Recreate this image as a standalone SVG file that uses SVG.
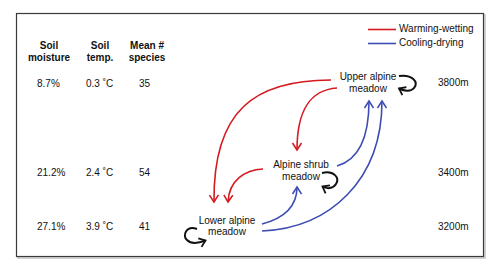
<svg xmlns="http://www.w3.org/2000/svg" width="500" height="276" viewBox="0 0 500 276">
<style>
text{font-family:"Liberation Sans",Arial,sans-serif;font-size:10px;fill:#111}
.h{font-weight:bold}
.m{text-anchor:middle}
.r{fill:none;stroke:#d41920;stroke-width:1.6}
.b{fill:none;stroke:#3e4db3;stroke-width:1.6}
.k{fill:none;stroke:#111;stroke-width:2}
</style>
<defs>
<marker id="ar" viewBox="-8 -6 10 12" refX="0" refY="0" markerWidth="10" markerHeight="12" markerUnits="userSpaceOnUse" orient="auto"><path d="M-7,-4.5 L0,0 L-7,4.5" fill="none" stroke="#d41920" stroke-width="1.5"/></marker>
<marker id="ab" viewBox="-8 -6 10 12" refX="0" refY="0" markerWidth="10" markerHeight="12" markerUnits="userSpaceOnUse" orient="auto"><path d="M-7,-4.5 L0,0 L-7,4.5" fill="none" stroke="#3e4db3" stroke-width="1.5"/></marker>
<marker id="ak" viewBox="-8 -6 10 12" refX="0" refY="0" markerWidth="10" markerHeight="12" markerUnits="userSpaceOnUse" orient="auto"><path d="M-6,-4.5 L0,0 L-6,4.5" fill="none" stroke="#111" stroke-width="1.8"/></marker>
</defs>
<rect x="18" y="15" width="467" height="243" fill="none" stroke="#c4c4c4" stroke-width="1.5"/>
<rect x="16.5" y="13.5" width="467" height="243" fill="#fff" stroke="#3a3a3a" stroke-width="1.2"/>
<g id="legend">
<line x1="368" y1="29.5" x2="396" y2="29.5" class="r"/>
<text x="399" y="32">Warming-wetting</text>
<line x1="368" y1="43.5" x2="396" y2="43.5" class="b"/>
<text x="399" y="46">Cooling-drying</text>
</g>
<g id="table">
<text class="h m" x="49" y="48.5">Soil</text>
<text class="h m" x="49" y="61">moisture</text>
<text class="h m" x="100" y="48.5">Soil</text>
<text class="h m" x="100" y="61">temp.</text>
<text class="h m" x="147" y="48.5">Mean #</text>
<text class="h m" x="147" y="61">species</text>
<text x="37" y="87">8.7%</text>
<text x="86" y="87">0.3 ˚C</text>
<text x="139" y="87">35</text>
<text x="37" y="176">21.2%</text>
<text x="86" y="176">2.4 ˚C</text>
<text x="139" y="176">54</text>
<text x="37" y="230">27.1%</text>
<text x="86" y="230">3.9 ˚C</text>
<text x="139" y="230">41</text>
</g>
<g id="altitudes">
<text x="438" y="86">3800m</text>
<text x="438" y="176">3400m</text>
<text x="438" y="230">3200m</text>
</g>
<g id="upper">
<text class="m" x="368" y="80">Upper alpine</text>
<text class="m" x="368" y="92">meadow</text>
<path class="k" d="M399,76 C412,74 419,82 414,88 C411,92 404,91 399,88.5" marker-end="url(#ak)"/>
</g>
<g id="shrub">
<text class="m" x="301" y="168">Alpine shrub</text>
<text class="m" x="301" y="180">meadow</text>
<path class="k" d="M322,173 C334,170 340,178 336,184 C333,189 327,189 322.5,186.5" marker-end="url(#ak)"/>
</g>
<g id="lower">
<text class="m" x="227" y="224">Lower alpine</text>
<text class="m" x="227" y="235">meadow</text>
<path class="k" d="M197,229 C186,225 182,236 187,240 C191,244 199,243 205.5,240.5" marker-end="url(#ak)"/>
</g>
<g id="connectors">
<path class="r" d="M331,80 C255,80 213,110 214,202" marker-end="url(#ar)"/>
<path class="r" d="M337,88 C310,90 297,110 297,150" marker-end="url(#ar)"/>
<path class="r" d="M263,169 C245,170 229,180 228,202" marker-end="url(#ar)"/>
<path class="b" d="M262,224 C285,218 297,205 297,187" marker-end="url(#ab)"/>
<path class="b" d="M262,231 C330,228 382,180 382,101" marker-end="url(#ab)"/>
<path class="b" d="M337,166 C358,160 369,140 369,101" marker-end="url(#ab)"/>
</g>
</svg>
